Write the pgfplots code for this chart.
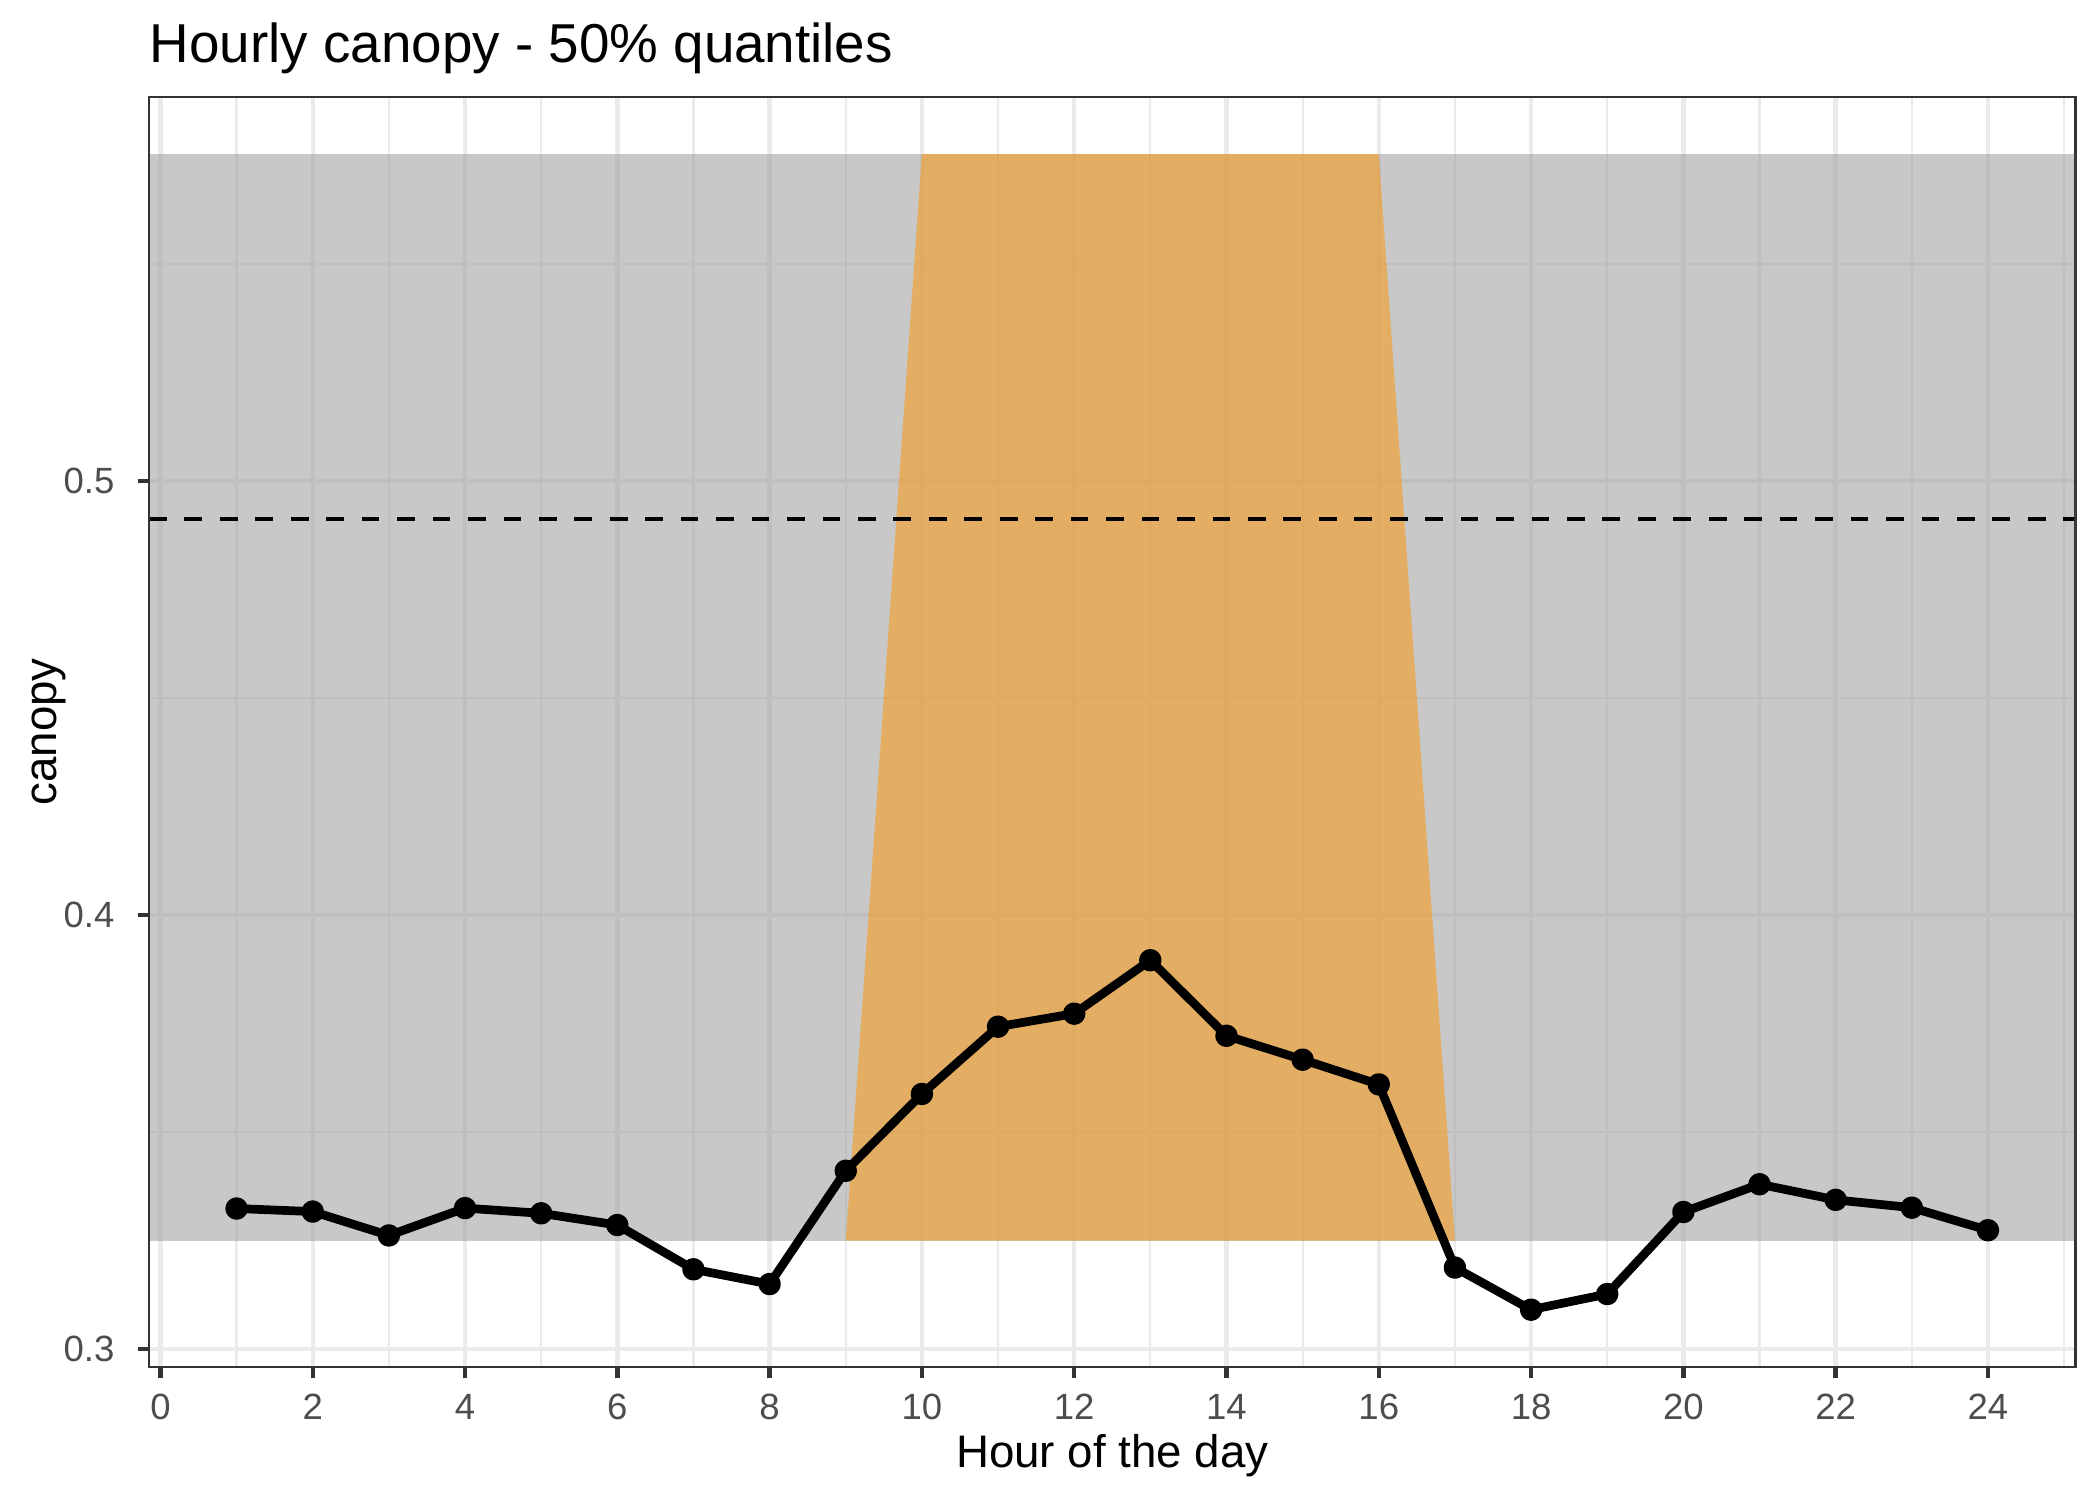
\documentclass[border=0pt]{standalone}
\usepackage{fontspec}
\setmainfont{Liberation Sans}
\usepackage{pgfplots}
\pgfplotsset{compat=1.18}
\definecolor{bandgray}{RGB}{163,163,163}
\definecolor{dayorange}{RGB}{255,150,0}
\definecolor{gridgray}{RGB}{235,235,235}
\definecolor{tickgray}{RGB}{77,77,77}
\definecolor{framegray}{RGB}{51,51,51}
\begin{document}
\begin{tikzpicture}
\path[use as bounding box] (0,0) rectangle (505.9pt,361.35pt);
\begin{axis}[
  at={(35.9pt,32.04pt)}, anchor=south west,
  scale only axis, width=464.1pt, height=305.96pt,
  xmin=-0.15, xmax=25.15, ymin=0.2959, ymax=0.5885,
  xtick={0,2,...,24}, ytick={0.3,0.4,0.5},
  minor xtick={1,3,...,25}, minor ytick={0.35,0.45,0.55},
  grid=both,
  major grid style={gridgray, line width=1.07pt},
  minor grid style={gridgray, line width=0.53pt},
  tick pos=left, tick align=outside,
  major tick length=2.75pt, minor tick length=0pt,
  major tick style={framegray, line width=1.07pt},
  axis line style={framegray, line width=0.55pt},
  /pgf/number format/assume math mode=true,
  ticklabel style={font=\fontsize{8.8}{10}\selectfont, text=tickgray},
  yticklabel style={/pgf/number format/fixed, /pgf/number format/fixed zerofill, /pgf/number format/precision=1, anchor=east, inner sep=0pt, xshift=-5.4pt},
  xticklabel style={anchor=base, inner sep=0pt, yshift=-9.8pt},
  xlabel={Hour of the day}, ylabel={canopy},
  label style={font=\fontsize{11}{13}\selectfont},
  xlabel style={at={(axis description cs:0.5,-0.0795)}, anchor=base, inner sep=0pt},
  ylabel style={at={(axis description cs:-0.04783,0.5)}, anchor=base, inner sep=0pt},
  title={Hourly canopy - 50\% quantiles},
  title style={at={(axis description cs:0,1.0072)}, anchor=base west, inner sep=0pt, font=\fontsize{13.2}{15}\selectfont},
]
\addplot[draw=none, fill=bandgray, fill opacity=0.6] coordinates {(-0.15,0.325) (25.15,0.325) (25.15,0.5753) (-0.15,0.5753)} -- cycle;
\addplot[draw=none, fill=dayorange, fill opacity=0.5] coordinates {(9,0.325) (10,0.5753) (16,0.5753) (17,0.325)} -- cycle;
\addplot[black, line width=1.07pt, dash pattern=on 4.27pt off 4.27pt] coordinates {(-0.15,0.4912) (25.15,0.4912)};
\addplot[black, line width=2.1pt, line join=round, mark=*, mark size=1.65pt, mark options={solid}] coordinates {
(1,0.3324) (2,0.3317) (3,0.3262) (4,0.3325) (5,0.3313) (6,0.3286) (7,0.3184) (8,0.3150)
(9,0.3411) (10,0.3588) (11,0.3743) (12,0.3773) (13,0.3896) (14,0.3722) (15,0.3667) (16,0.3610)
(17,0.3188) (18,0.3091) (19,0.3127) (20,0.3316) (21,0.3380) (22,0.3344) (23,0.3326) (24,0.3274)};
\draw[framegray, line width=0.55pt] (rel axis cs:0,0) rectangle (rel axis cs:1,1);
\end{axis}
\end{tikzpicture}
\end{document}
